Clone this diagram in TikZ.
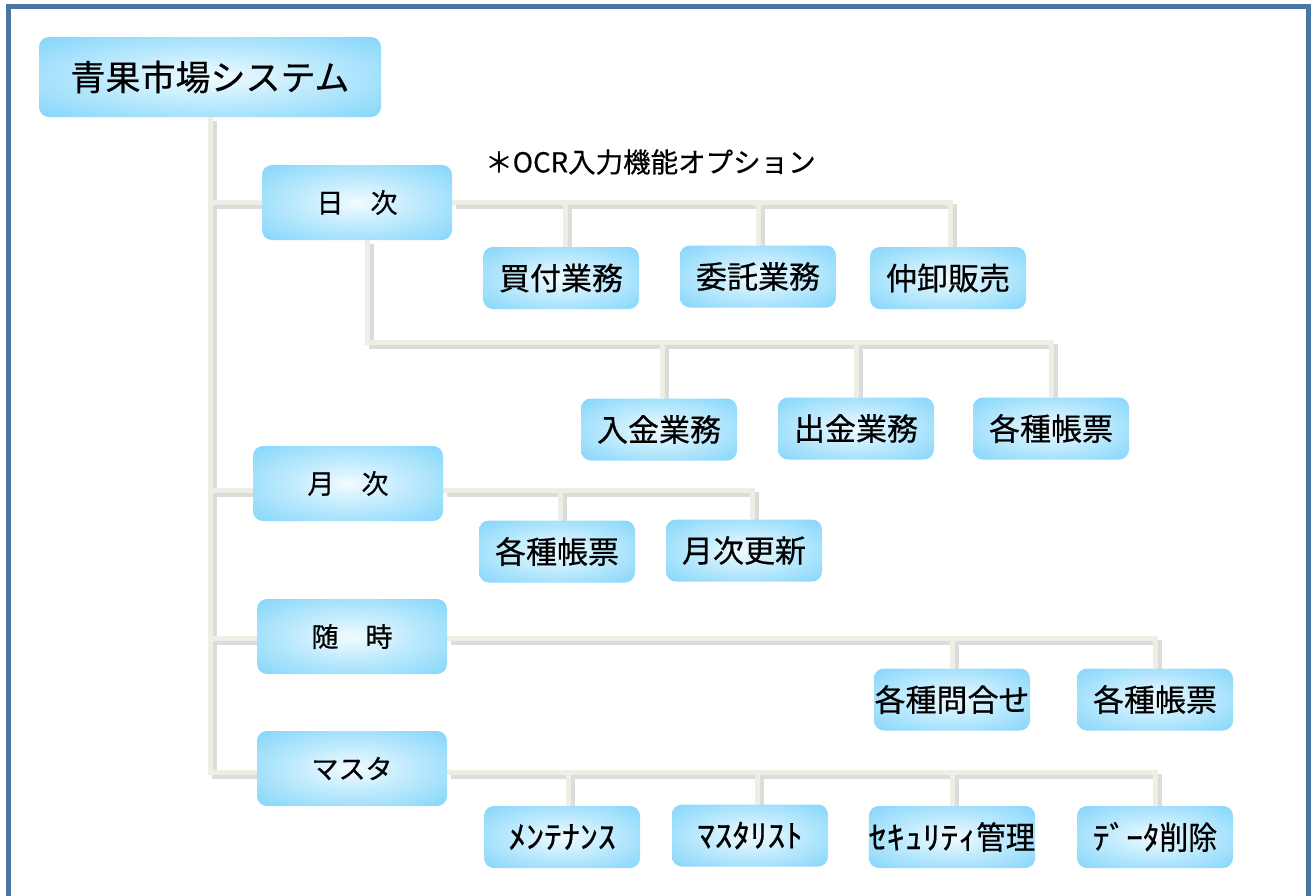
\documentclass[tikz,border=0pt]{standalone}
\usepackage{fontspec}
\newfontfamily\jp[FakeBold=0.5]{Noto Sans CJK JP}
\usetikzlibrary{backgrounds}
\definecolor{frameC}{RGB}{74,118,162}
\definecolor{boxOut}{RGB}{125,211,250}
\definecolor{boxMid}{RGB}{190,234,253}
\definecolor{boxIn}{RGB}{242,251,255}
\definecolor{lineC}{RGB}{238,238,228}
\definecolor{lineS}{RGB}{220,220,220}
\pgfdeclareradialshading{boxshade}{\pgfpoint{0bp}{0bp}}{color(0bp)=(boxIn); color(16bp)=(boxMid); color(38bp)=(boxOut); color(50bp)=(boxOut)}
\pgfdeclarelayer{back}
\pgfdeclarelayer{shad}
\pgfdeclarelayer{conns}
\pgfsetlayers{back,shad,conns,main}
\newcommand\conn[1]{%
  \begin{pgfonlayer}{shad}\begin{scope}[transform canvas={shift={(4,4)}}]\draw[lineS,line width=5pt] #1;\end{scope}\end{pgfonlayer}%
  \draw[lineC,line width=5pt] #1;}
\newcommand\hk[1]{\scalebox{1.12}[1]{#1}}
\newcommand\kj[1]{\scalebox{0.92}[1]{#1}}
\tikzset{
  box/.style={rounded corners=10pt, shading=boxshade, inner sep=0pt, text=black},
  titlebox/.style={box, minimum width=342pt, minimum height=80pt, font=\jp\fontsize{35}{35}\selectfont},
  bigbox/.style={box, minimum width=190pt, minimum height=75pt, font=\jp\fontsize{27}{27}\selectfont},
  leaf/.style={box, minimum width=156pt, minimum height=62pt, font=\jp\fontsize{31}{31}\selectfont},
  leafn/.style={box, minimum width=156pt, minimum height=62pt, font=\jp\fontsize{32}{32}\selectfont},
  note/.style={font=\jp\fontsize{27.5}{27.5}\selectfont, text=black, inner sep=0pt}
}
\begin{document}
\begin{tikzpicture}[x=1pt,y=-1pt]
\clip (0,0) rectangle (1315,895);
\begin{pgfonlayer}{back}
\fill[white] (0,0) rectangle (1315,895);
\draw[frameC, line width=5pt] (8.5,6.5) rectangle (1308.5,930);
\end{pgfonlayer}

\node[titlebox] (title) at (210,77) {青果市場システム};
\node[bigbox] (nichiji) at (357,202.5) {日　次};
\node[note, anchor=west] (ocr) at (485,162) {＊OCR入力機能オプション};
\node[leaf] (kaitsuke) at (561,278) {買付業務};
\node[leaf] (itaku) at (758,276.5) {委託業務};
\node[leaf] (nakaoroshi) at (948,278) {仲卸販売};
\node[leaf] (nyukin) at (659,429.5) {入金業務};
\node[leaf] (shukkin) at (856,428.5) {出金業務};
\node[leaf] (chohyoA) at (1051,428.5) {各種帳票};
\node[bigbox] (getsuji) at (348,483.5) {月　次};
\node[leaf] (chohyoB) at (557,551.5) {各種帳票};
\node[leaf] (koshin) at (744,550.5) {月次更新};
\node[bigbox] (zuiji) at (352,636.5) {随　時};
\node[leaf] (toiawase) at (952,699.5) {各種問合せ};
\node[leaf] (chohyoC) at (1155,699.5) {各種帳票};
\node[bigbox] (masta) at (352,768.5) {マスタ};
\node[leafn] (mente) at (562,837) {\hk{ﾒﾝﾃﾅﾝｽ}};
\node[leafn] (mlist) at (750,835.5) {\scalebox{1.1}[1]{ﾏｽﾀﾘｽﾄ}};
\node[leafn] (secu) at (952,837) {\hk{ｾｷｭﾘﾃｨ}\kj{管理}};
\node[leafn] (datadel) at (1155,837) {\scalebox{1.04}[1]{ﾃﾞｰﾀ}\scalebox{0.9}[1]{削除}};

\begin{pgfonlayer}{conns}
\coordinate (gbus) at ([yshift=-6.5pt]getsuji.east);
\coordinate (zbus) at ([yshift=-2pt]zuiji.east);
\coordinate (mbus) at ([yshift=-4pt]masta.east);
\coordinate (nstart) at ([xshift=10pt]nichiji.south);
\coordinate (nbus) at (367,342);
\coordinate (kaiT) at ([xshift=4pt]kaitsuke.north);
\coordinate (nakT) at ([xshift=2pt]nakaoroshi.north);
\coordinate (nyuT) at ([xshift=3pt]nyukin.north);
\coordinate (kosT) at ([xshift=8pt]koshin.north);
\coordinate (choBT) at ([xshift=3pt]chohyoB.north);
\coordinate (menT) at ([xshift=6pt]mente.north);
\coordinate (mliT) at ([xshift=7pt]mlist.north);
% trunk
\conn{(title.south) |- (masta.west |- mbus)}
\conn{(title.south |- nichiji.west) -- (nichiji.west)}
\conn{(title.south |- gbus) -- (getsuji.west |- gbus)}
\conn{(title.south |- zbus) -- (zuiji.west |- zbus)}
% daily
\conn{(nichiji.east) -| (nakT)}
\conn{(nichiji.east -| kaiT) -- (kaiT)}
\conn{(nichiji.east -| itaku.north) -- (itaku.north)}
\conn{(nstart) -- (nbus) -| (chohyoA.north)}
\conn{(nbus -| nyuT) -- (nyuT)}
\conn{(nbus -| shukkin.north) -- (shukkin.north)}
% monthly
\conn{(gbus) -| (kosT)}
\conn{(gbus -| choBT) -- (choBT)}
% occasional
\conn{(zbus) -| (chohyoC.north)}
\conn{(zbus -| toiawase.north) -- (toiawase.north)}
% master
\conn{(mbus) -| (datadel.north)}
\conn{(mbus -| menT) -- (menT)}
\conn{(mbus -| mliT) -- (mliT)}
\conn{(mbus -| secu.north) -- (secu.north)}
\end{pgfonlayer}
\end{tikzpicture}
\end{document}
